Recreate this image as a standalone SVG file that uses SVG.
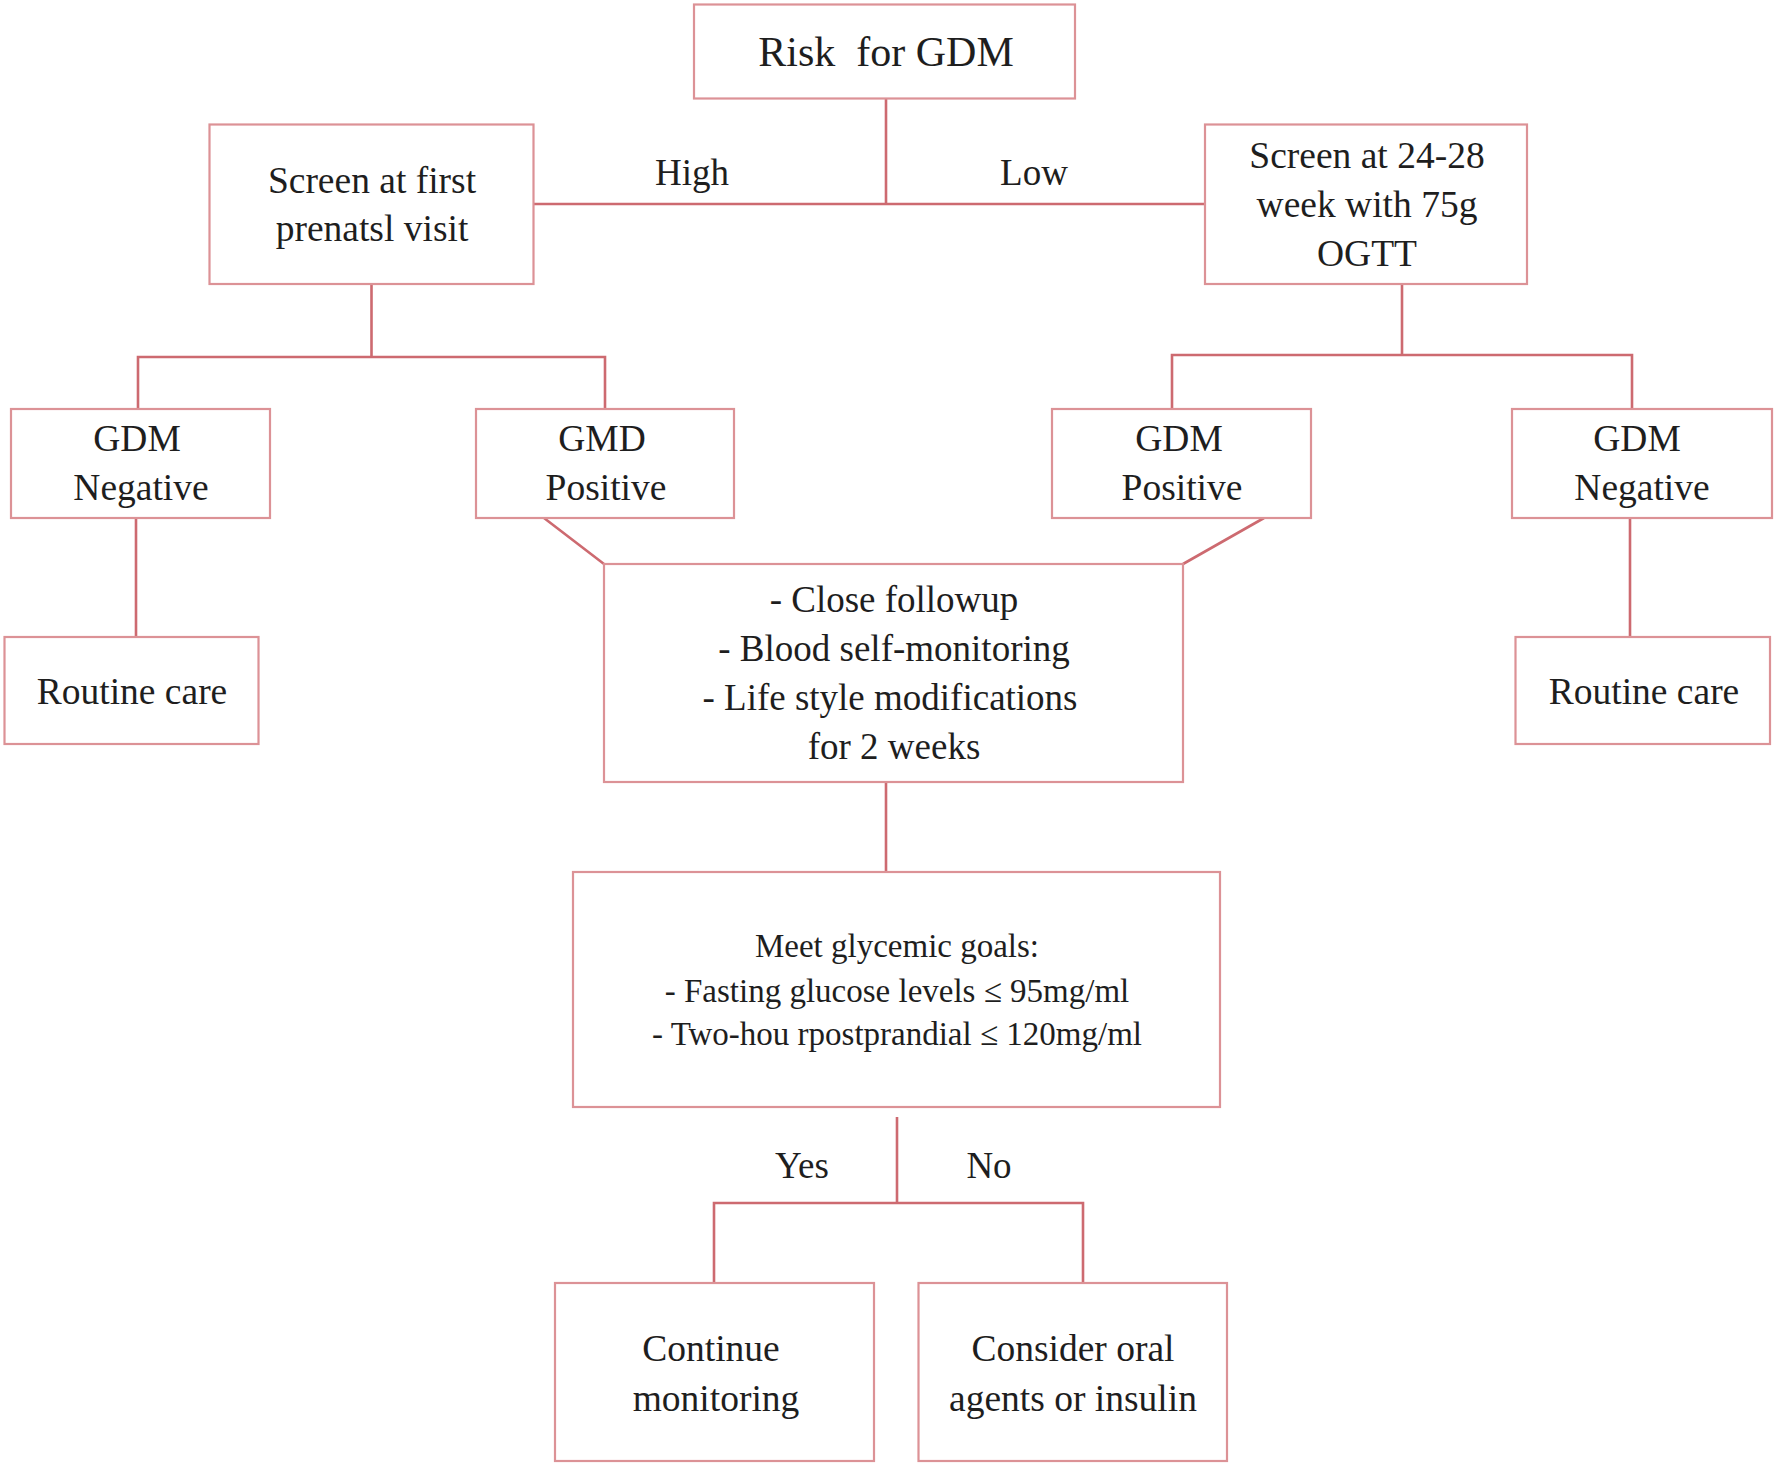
<svg xmlns="http://www.w3.org/2000/svg" width="1776" height="1467" viewBox="0 0 1776 1467">
<style>
.box{fill:#fff;stroke:#dc9296;stroke-width:2.2}
.con{fill:none;stroke:#cd6a70;stroke-width:2.6}
text{font-family:"Liberation Serif","Times New Roman",serif;fill:#1e1e1e;text-anchor:middle}
.t{font-size:37.5px}
.c{font-size:37px}
.m{font-size:33px}
.l{font-size:37px}
</style>
<rect width="1776" height="1467" fill="#fff"/>
<g id="connectors">
<path class="con" d="M886 99V204M533 204H1205"/>
<path class="con" d="M371.5 284V357M138 409V357H605V409"/>
<path class="con" d="M1402 284V355M1172 409V355H1632V409"/>
<path class="con" d="M136 518V637M1630 518V637"/>
<path class="con" d="M544 518L604 564M1264 518L1183 564"/>
<path class="con" d="M886 782V872"/>
<path class="con" d="M897 1117V1203M714 1283V1203H1083V1283"/>
</g>
<g id="risk"><rect class="box" x="694" y="4.5" width="381" height="94"/><text x="886" y="66" font-size="42" xml:space="preserve">Risk  for GDM</text></g>
<g id="label-high"><text class="l" x="692" y="185">High</text></g>
<g id="label-low"><text class="l" x="1034" y="185">Low</text></g>
<g id="screen-first"><rect class="box" x="209.5" y="124.5" width="324" height="159.5"/><text class="t" x="372" y="193">Screen at first</text><text class="t" x="372" y="241">prenatsl visit</text></g>
<g id="screen-24"><rect class="box" x="1205" y="124.5" width="322" height="159.5"/><text class="t" x="1367" y="168">Screen at 24-28</text><text class="t" x="1367" y="217">week with 75g</text><text class="t" x="1367" y="266">OGTT</text></g>
<g id="neg-left"><rect class="box" x="11" y="409" width="259" height="109"/><text class="t" x="137" y="451">GDM</text><text class="t" x="141" y="500">Negative</text></g>
<g id="pos-left"><rect class="box" x="476" y="409" width="258" height="109"/><text class="t" x="602" y="451">GMD</text><text class="t" x="606" y="500">Positive</text></g>
<g id="pos-right"><rect class="box" x="1052" y="409" width="259" height="109"/><text class="t" x="1179" y="451">GDM</text><text class="t" x="1182" y="500">Positive</text></g>
<g id="neg-right"><rect class="box" x="1512" y="409" width="260" height="109"/><text class="t" x="1637" y="451">GDM</text><text class="t" x="1642" y="500">Negative</text></g>
<g id="routine-left"><rect class="box" x="4.5" y="637" width="254" height="107"/><text class="t" x="132" y="704">Routine care</text></g>
<g id="routine-right"><rect class="box" x="1515.5" y="637" width="254.5" height="107"/><text class="t" x="1644" y="704">Routine care</text></g>
<g id="followup"><rect class="box" x="604" y="564" width="579" height="218"/><text class="c" x="894" y="612">- Close followup</text><text class="c" x="894" y="661">- Blood self-monitoring</text><text class="c" x="890" y="710">- Life style modifications</text><text class="c" x="894" y="759">for 2 weeks</text></g>
<g id="goals"><rect class="box" x="573" y="872" width="647" height="235"/><text class="m" x="897" y="957">Meet glycemic goals:</text><text class="m" x="897" y="1002">- Fasting glucose levels ≤ 95mg/ml</text><text class="m" x="897" y="1045">- Two-hou rpostprandial ≤ 120mg/ml</text></g>
<g id="label-yes"><text class="l" x="802" y="1178">Yes</text></g>
<g id="label-no"><text class="l" x="989" y="1178">No</text></g>
<g id="continue"><rect class="box" x="555" y="1283" width="319" height="178"/><text class="t" x="711" y="1361">Continue</text><text class="t" x="716" y="1411">monitoring</text></g>
<g id="consider"><rect class="box" x="918.5" y="1283" width="308.5" height="178"/><text class="t" x="1073" y="1361">Consider oral</text><text class="t" x="1073" y="1411">agents or insulin</text></g>
</svg>
